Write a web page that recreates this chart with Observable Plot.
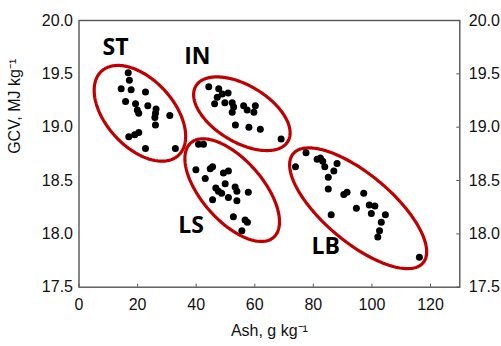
<!DOCTYPE html>
<html>
<head>
<meta charset="utf-8">
<script src="https://cdn.jsdelivr.net/npm/d3@7"></script>
<script src="https://cdn.jsdelivr.net/npm/@observablehq/plot@0.6"></script>
<style>
  html, body { margin: 0; padding: 0; background: #fff; }
  #chart { width: 501px; height: 346px; }
</style>
</head>
<body>
<div id="chart"></div>
<script>
// ---- Data ----
const groups = ["ST", "IN", "LS", "LB"];

const stAsh = [16.8,17.2,14.4,17.8,22.7,15.9,19.3,23.5,19.9,20.4,26.3,26.1,25.9,31.0,26.1,20.4,19.0,17.0,22.7,32.9];
const stGcv = [19.51,19.44,19.36,19.35,19.33,19.24,19.22,19.20,19.16,19.13,19.17,19.13,19.09,19.11,19.02,18.95,18.93,18.91,18.80,18.80];

const inAsh = [44.3,47.7,48.9,50.9,47.2,46.3,49.8,52.3,52.8,52.3,56.2,57.4,60.2,59.7,53.4,58.0,61.9,69.0];
const inGcv = [19.38,19.36,19.31,19.32,19.28,19.22,19.23,19.23,19.19,19.14,19.20,19.16,19.20,19.14,19.02,19.00,18.98,18.89];

const lsAsh = [40.8,42.5,39.9,44.8,45.6,43.1,49.3,51.0,49.9,46.7,47.6,48.7,51.0,53.3,53.9,57.8,45.6,53.9,52.7,56.7,57.5,55.6];
const lsGcv = [18.84,18.84,18.60,18.61,18.63,18.52,18.57,18.59,18.47,18.43,18.40,18.38,18.34,18.44,18.40,18.39,18.32,18.31,18.16,18.13,18.11,18.03];

const lbAsh = [73.9,77.5,81.3,82.4,83.2,83.9,88.1,87.0,85.1,85.1,90.4,91.5,97.2,86.1,94.7,99.1,101.0,99.8,104.6,103.2,102.6,102.0,116.2];
const lbGcv = [18.63,18.76,18.70,18.71,18.68,18.63,18.66,18.59,18.53,18.42,18.37,18.39,18.38,18.18,18.24,18.27,18.26,18.19,18.18,18.11,18.03,17.97,17.78];

// group label anchor positions (data units)
const labelAsh = [12.5, 40.4, 38.3, 84.2];
const labelGcv = [19.75, 19.66, 18.08, 17.88];

// grouping ellipses: centre (data units), semi-axes (px), rotation (deg, clockwise on screen)
const ellCenterAsh = [20.8, 55.6, 52.3, 95.3];
const ellCenterGcv = [19.13, 19.126, 18.41, 18.24];
const ellMajor = [57, 53.7, 62.8, 84.8];
const ellMinor = [33.7, 28.3, 30.5, 33.9];
const ellAngle = [47.7, 31.1, 48.8, 40.0];

const xTicks = [0, 20, 40, 60, 80, 100, 120];
const yTicks = [17.5, 18.0, 18.5, 19.0, 19.5, 20.0];
const xDomain = [0, 130];
const yDomain = [17.5, 20.0];

// ---- Build tables ----
const seriesAsh = [stAsh, inAsh, lsAsh, lbAsh];
const seriesGcv = [stGcv, inGcv, lsGcv, lbGcv];
const points = groups.flatMap((g, i) => seriesAsh[i].map((a, j) => ({group: g, ash: a, gcv: seriesGcv[i][j]})));
const labels = groups.map((g, i) => ({group: g, ash: labelAsh[i], gcv: labelGcv[i]}));

const W = 501, H = 346;
const mL = 78.5, mR = 41.7, mT = 20, mB = 59.3;
const kx = (W - mL - mR) / (xDomain[1] - xDomain[0]);
const ky = (H - mT - mB) / (yDomain[1] - yDomain[0]);

const ellipsePts = groups.flatMap((g, i) => {
  const th = ellAngle[i] * Math.PI / 180;
  const a = ellMajor[i], b = ellMinor[i];
  const out = [];
  for (let k = 0; k < 180; k++) {
    const t = 2 * Math.PI * k / 180;
    const ex = a * Math.cos(t) * Math.cos(th) - b * Math.sin(t) * Math.sin(th);
    const ey = a * Math.cos(t) * Math.sin(th) + b * Math.sin(t) * Math.cos(th);
    out.push({group: g, ash: ellCenterAsh[i] + ex / kx, gcv: ellCenterGcv[i] - ey / ky});
  }
  return out;
});

const fmt1 = d3.format(".1f");
const tickFont = "Liberation Sans, Arial, sans-serif";

const chart = Plot.plot({
  width: W,
  height: H,
  marginLeft: mL,
  marginRight: mR,
  marginTop: mT,
  marginBottom: mB,
  style: {fontFamily: tickFont, fontSize: "16px", color: "#111", background: "#fff", overflow: "visible"},
  x: {domain: xDomain, axis: null},
  y: {domain: yDomain, axis: null},
  marks: [
    Plot.frame({stroke: "#555", strokeWidth: 1.4}),
    // inward ticks on bottom and right
    Plot.ruleX(xTicks, {x: d => d, y1: yDomain[0], y2: yDomain[0] + 3 / ky, stroke: "#555", strokeWidth: 1}),
    Plot.ruleY(yTicks, {y: d => d, x1: xDomain[1] - 3 / kx, x2: xDomain[1], stroke: "#555", strokeWidth: 1}),
    Plot.axisX({ticks: xTicks, tickSize: 0, tickPadding: 11, label: null, fontSize: 16}),
    Plot.axisY({anchor: "left", ticks: yTicks, tickSize: 0, tickPadding: 6, tickFormat: fmt1, label: null, fontSize: 16}),
    Plot.axisY({anchor: "right", ticks: yTicks, tickSize: 0, tickPadding: 9, tickFormat: fmt1, label: null, fontSize: 16}),
    Plot.line(ellipsePts, {x: "ash", y: "gcv", z: "group", curve: "linear-closed", stroke: "#c00000", strokeWidth: 3.2}),
    Plot.dot(points, {x: "ash", y: "gcv", r: 3.5, fill: "#000", stroke: "none"}),
    Plot.text(labels, {x: "ash", y: "gcv", text: "group", fontFamily: "Open Sans, Lato, sans-serif", fontWeight: 700, fontSize: 23, fill: "#000"}),
    Plot.text(["GCV, MJ kg\u207B\u00B9"], {frameAnchor: "left", rotate: -90, dx: -64.5, fontSize: 16, fill: "#111"}),
    Plot.text(["Ash, g kg\u207B\u00B9"], {frameAnchor: "bottom", dy: 49, fontSize: 16, fill: "#111"})
  ]
});

document.getElementById("chart").appendChild(chart);
</script>
</body>
</html>
